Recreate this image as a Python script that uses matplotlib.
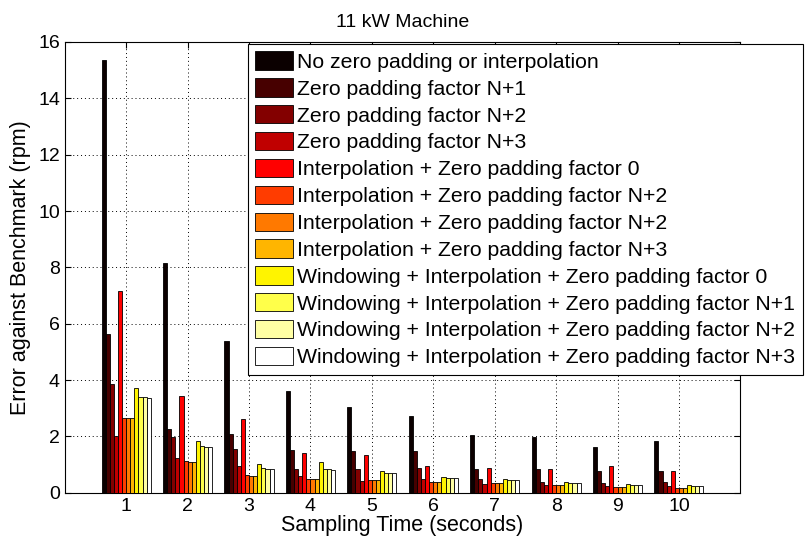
import matplotlib.pyplot as plt
import numpy as np

plt.rcParams['font.family'] = ['Liberation Sans', 'DejaVu Sans']

times = [1, 2, 3, 4, 5, 6, 7, 8, 9, 10]
labels = ['No zero padding or interpolation',
          'Zero padding factor N+1',
          'Zero padding factor N+2',
          'Zero padding factor N+3',
          'Interpolation + Zero padding factor 0',
          'Interpolation + Zero padding factor N+2',
          'Interpolation + Zero padding factor N+2',
          'Interpolation + Zero padding factor N+3',
          'Windowing + Interpolation + Zero padding factor 0',
          'Windowing + Interpolation + Zero padding factor N+1',
          'Windowing + Interpolation + Zero padding factor N+2',
          'Windowing + Interpolation + Zero padding factor N+3']

# one list per sampling time, 12 methods each
t1 = [15.35, 5.65, 3.85, 2.0, 7.15, 2.65, 2.67, 2.67, 3.71, 3.4, 3.4, 3.38]
t2 = [8.15, 2.25, 1.97, 1.23, 3.44, 1.13, 1.09, 1.09, 1.84, 1.66, 1.64, 1.64]
t3 = [5.38, 2.1, 1.55, 0.97, 2.63, 0.63, 0.59, 0.59, 1.02, 0.87, 0.85, 0.85]
t4 = [3.61, 1.52, 0.83, 0.6, 1.42, 0.5, 0.5, 0.5, 1.08, 0.85, 0.85, 0.82]
t5 = [3.03, 1.5, 0.84, 0.43, 1.36, 0.46, 0.44, 0.44, 0.79, 0.69, 0.69, 0.69]
t6 = [2.71, 1.5, 0.87, 0.48, 0.96, 0.4, 0.4, 0.4, 0.58, 0.51, 0.51, 0.51]
t7 = [2.06, 0.84, 0.48, 0.31, 0.89, 0.34, 0.34, 0.34, 0.48, 0.44, 0.44, 0.44]
t8 = [1.97, 0.84, 0.4, 0.28, 0.86, 0.28, 0.28, 0.28, 0.39, 0.35, 0.35, 0.35]
t9 = [1.62, 0.76, 0.34, 0.25, 0.95, 0.2, 0.2, 0.2, 0.31, 0.27, 0.27, 0.27]
t10 = [1.83, 0.76, 0.37, 0.25, 0.78, 0.19, 0.19, 0.17, 0.27, 0.25, 0.25, 0.25]

data = np.array([t1, t2, t3, t4, t5, t6, t7, t8, t9, t10])
n = data.shape[1]
colors = plt.cm.hot(np.linspace(0, 1, n))

fig = plt.figure(figsize=(8.1, 5.44), dpi=100)
ax = fig.add_axes([0.080, 0.094, 0.834, 0.829])

w = 0.8 / n
x = np.array(times)
for i in range(n):
    ax.bar(x - 0.4 + w * (i + 0.5), data[:, i], w, color=colors[i],
           edgecolor='black', linewidth=0.6, label=labels[i], zorder=3)

ax.set_xlim(0, 11)
ax.set_ylim(0, 16)
ax.set_xticks(times)
ax.set_yticks(range(0, 17, 2))
ax.grid(True, linestyle=(0, (1, 3)), color='black', linewidth=0.7)
ax.tick_params(direction='in', top=True, right=True, labelsize=14, length=4)
for s in ax.spines.values():
    s.set_linewidth(0.8)

ax.set_xlabel('Sampling Time (seconds)', fontsize=15.5, labelpad=0)
ax.set_ylabel('Error against Benchmark (rpm)', fontsize=15.5, labelpad=5)
ax.set_title('11 kW Machine', fontsize=14, pad=11)

leg = ax.legend(loc='upper left', bbox_to_anchor=(248 / 810, 1 - 44 / 544),
                bbox_transform=fig.transFigure, fontsize=15.3, frameon=True,
                fancybox=False, edgecolor='black', framealpha=1,
                handlelength=1.75, handleheight=0.95, labelspacing=0.3,
                borderpad=0.35, handletextpad=0.22, borderaxespad=0)
leg.get_frame().set_linewidth(0.8)
leg.set_zorder(5)

fig.savefig('out.png', dpi=100)
